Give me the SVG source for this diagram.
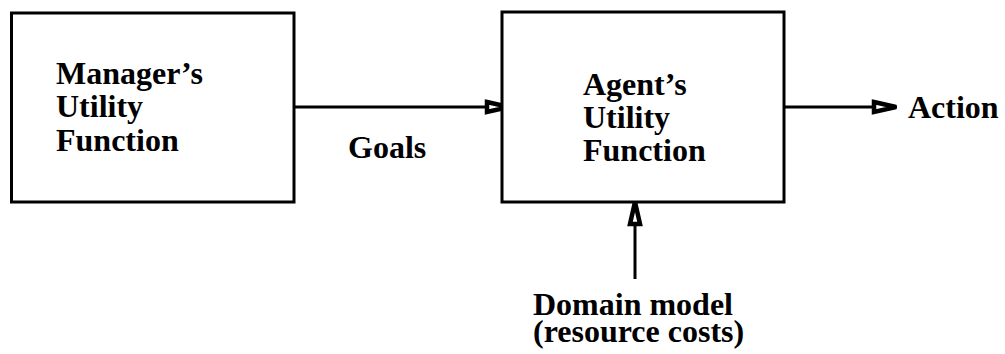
<svg xmlns="http://www.w3.org/2000/svg" width="1005" height="354" viewBox="0 0 1005 354">
  <style>
    .box { fill: #fff; stroke: #000; stroke-width: 3; }
    .wire { fill: none; stroke: #000; stroke-width: 3; }
    .lbl { font-family: "Liberation Serif", "Times New Roman", serif; font-size: 32px; font-weight: bold; fill: #000; }
  </style>
  <defs>
    <!-- open triangular arrowhead with a heavy outline -->
    <marker id="head" viewBox="0 0 30 16" markerWidth="30" markerHeight="16" refX="27" refY="8" orient="auto" markerUnits="userSpaceOnUse">
      <path d="M4,3 L26,8 L4,13 Z" fill="#fff" stroke="#000" stroke-width="4.5" stroke-linejoin="miter"/>
    </marker>
  </defs>
  <rect width="1005" height="354" fill="#fff"/>

  <g id="connectors">
    <line class="wire" x1="295" y1="107" x2="510" y2="107" marker-end="url(#head)"/>
    <line class="wire" x1="784" y1="107" x2="897" y2="107" marker-end="url(#head)"/>
    <line class="wire" x1="635" y1="279" x2="635" y2="201" marker-end="url(#head)"/>
  </g>

  <g id="manager">
    <rect class="box" x="11.5" y="13" width="282.5" height="189"/>
    <text class="lbl" x="56" y="84">Manager’s</text>
    <text class="lbl" x="56" y="117">Utility</text>
    <text class="lbl" x="56" y="151">Function</text>
  </g>

  <g id="agent">
    <rect class="box" x="502" y="12" width="282" height="190"/>
    <text class="lbl" x="583" y="95">Agent’s</text>
    <text class="lbl" x="583" y="128">Utility</text>
    <text class="lbl" x="583" y="161">Function</text>
  </g>

  <g id="goals">
    <text class="lbl" x="348" y="158">Goals</text>
  </g>

  <g id="action">
    <text class="lbl" x="908" y="118">Action</text>
  </g>

  <g id="domain">
    <text class="lbl" x="533" y="315">Domain model</text>
    <text class="lbl" x="533" y="342">(resource costs)</text>
  </g>
</svg>
